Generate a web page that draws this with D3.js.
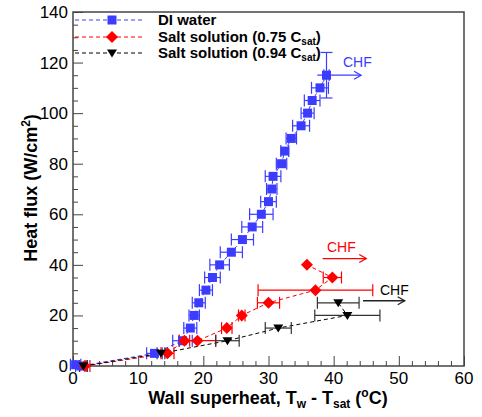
<!DOCTYPE html>
<head>
  <meta charset="utf-8">
  <script src="https://d3js.org/d3.v7.min.js"></script>
  <style>
    body { margin: 0; background: white; }
    svg { display: block; background: white; font-family: "Liberation Sans", Arial, sans-serif; }
  </style>
</head>
<body>
<svg width="482" height="417"></svg>
<script>
// DI water: [superheat, heat flux, x error, y error]
var diWater = [
  [0.4, 0.5, 0.8, 0], [1.2, 0, 0.8, 0], [12.5, 5, 1.2, 0], [16.8, 10, 1.5, 0],
  [18.0, 15, 1.0, 0], [18.6, 20, 0.8, 0], [19.3, 25, 1.0, 0], [20.4, 30, 1.0, 0],
  [21.4, 35, 1.2, 0], [22.5, 40, 1.5, 0], [24.3, 45, 1.7, 0], [26.0, 50, 1.7, 0],
  [27.5, 55, 1.6, 0], [28.9, 60, 1.8, 0], [30.0, 65, 1.2, 0], [30.5, 70, 0.8, 0],
  [30.7, 75, 1.2, 0], [32.0, 80, 0.8, 0], [32.5, 85, 0.6, 0], [33.5, 90, 0.8, 0],
  [35.0, 95, 1.3, 0], [36.0, 100, 1.0, 0], [36.7, 105, 1.2, 0], [37.9, 110, 1.3, 0],
  [38.9, 115, 0.4, 9]
];
var salt075 = [
  [1.8, 0, 0.8, 0], [14.5, 5, 1.0, 0], [17.1, 10, 0.8, 0], [19.1, 10, 2.8, 0],
  [23.6, 15, 0.8, 0], [25.9, 20, 0.5, 0], [30.0, 25, 1.7, 0], [37.2, 30, 8.8, 0],
  [39.8, 35, 1.4, 0], [35.9, 40, 0, 0]
];
var salt094 = [
  [1.6, 0, 0.6, 0], [13.5, 5, 0.6, 0], [23.7, 10, 1.8, 0], [31.5, 15, 2.0, 0],
  [42.1, 20, 5.0, 0], [40.7, 25, 3.2, 0]
];
var seriesNames = ["DI water", "Salt solution (0.75 C", "Salt solution (0.94 C"];
var seriesColors = ["#3c3cff", "#ff0000", "#000000"];
// CHF arrows: [x start, x end, y, label]
var chfArrows = [
  [37.5, 44.2, 115, "CHF"],
  [38.3, 45.0, 42.5, "CHF"],
  [44.5, 50.9, 25.8, "CHF"]
];
var xTicks = [0, 10, 20, 30, 40, 50, 60];
var yTicks = [0, 20, 40, 60, 80, 100, 120, 140];

var svg = d3.select("svg");
var x = d3.scaleLinear().domain([0, 60]).range([73, 464]);
var y = d3.scaleLinear().domain([0, 140]).range([366, 12]);

var frameColor = "#444";

// ticks inward
var xAxis = d3.axisBottom(x).tickValues(d3.range(0, 61, 2)).tickSize(-5).tickFormat("");
svg.append("g").attr("transform", "translate(0,366)").call(xAxis)
  .call(g => g.select(".domain").remove())
  .call(g => g.selectAll("line").attr("stroke", frameColor)
    .attr("y2", d => d % 10 === 0 ? -10 : -5));
var yAxis = d3.axisLeft(y).tickValues(d3.range(0, 141, 5)).tickSize(-5).tickFormat("");
svg.append("g").attr("transform", "translate(73,0)").call(yAxis)
  .call(g => g.select(".domain").remove())
  .call(g => g.selectAll("line").attr("stroke", frameColor)
    .attr("x2", d => d % 20 === 0 ? 10 : 5));

svg.append("rect").attr("x", 73).attr("y", 12).attr("width", 391).attr("height", 354)
  .attr("fill", "none").attr("stroke", frameColor).attr("stroke-width", 1.5);

svg.selectAll(".xl").data(xTicks).enter().append("text")
  .attr("x", d => x(d)).attr("y", 384).attr("text-anchor", "middle")
  .attr("font-size", 17).text(d => d);
svg.selectAll(".yl").data(yTicks).enter().append("text")
  .attr("x", 68).attr("y", d => y(d) + 6).attr("text-anchor", "end")
  .attr("font-size", 17).text(d => d);

// axis titles
var xt = svg.append("text").attr("x", 268).attr("y", 404).attr("text-anchor", "middle")
  .attr("font-size", 18).attr("font-weight", "bold");
xt.append("tspan").text("Wall superheat, T");
xt.append("tspan").attr("font-size", 12).attr("dy", 4).text("w");
xt.append("tspan").attr("dy", -4).text(" - T");
xt.append("tspan").attr("font-size", 12).attr("dy", 4).text("sat");
xt.append("tspan").attr("dy", -4).text(" (");
xt.append("tspan").attr("font-size", 12).attr("dy", -7).text("o");
xt.append("tspan").attr("dy", 7).text("C)");

var yt = svg.append("text").attr("transform", "translate(37,188) rotate(-90)")
  .attr("text-anchor", "middle").attr("font-size", 18).attr("font-weight", "bold");
yt.append("tspan").text("Heat flux (W/cm");
yt.append("tspan").attr("font-size", 12).attr("dy", -7).text("2");
yt.append("tspan").attr("dy", 7).text(")");

var line = d3.line().x(d => x(d[0])).y(d => y(d[1]));
var allSeries = [diWater, salt075, salt094];

allSeries.forEach(function(data, i) {
  var col = seriesColors[i];
  var g = svg.append("g");
  g.append("path").datum(data).attr("d", line).attr("fill", "none")
    .attr("stroke", col).attr("stroke-width", 1).attr("stroke-dasharray", "4,3");
  // error bars
  data.forEach(function(d) {
    var ec = i === 2 ? "#333" : col;
    if (d[2] > 0) {
      g.append("line").attr("x1", x(d[0] - d[2])).attr("x2", x(d[0] + d[2]))
        .attr("y1", y(d[1])).attr("y2", y(d[1])).attr("stroke", ec).attr("stroke-width", 1.2);
      [d[0] - d[2], d[0] + d[2]].forEach(function(v) {
        g.append("line").attr("x1", x(v)).attr("x2", x(v))
          .attr("y1", y(d[1]) - 6).attr("y2", y(d[1]) + 6).attr("stroke", ec).attr("stroke-width", 1.2);
      });
    }
    if (d[3] > 0) {
      g.append("line").attr("x1", x(d[0])).attr("x2", x(d[0]))
        .attr("y1", y(d[1] - d[3])).attr("y2", y(d[1] + d[3])).attr("stroke", ec).attr("stroke-width", 1.2);
      [d[1] - d[3], d[1] + d[3]].forEach(function(v) {
        g.append("line").attr("x1", x(d[0]) - 6).attr("x2", x(d[0]) + 6)
          .attr("y1", y(v)).attr("y2", y(v)).attr("stroke", ec).attr("stroke-width", 1.2);
      });
    }
  });
});

var shapes = [
  "M-4.5,-4.5H4.5V4.5H-4.5Z",
  "M0,-6L6,0L0,6L-6,0Z",
  "M-5,-3.5H5L0,4.5Z"
];
function marker(g, i, px, py) {
  g.append("path").attr("d", shapes[i])
    .attr("transform", "translate(" + px + "," + py + ")")
    .attr("fill", seriesColors[i]);
}
allSeries.forEach(function(data, i) {
  var g = svg.append("g");
  data.forEach(d => marker(g, i, x(d[0]), y(d[1])));
});

// CHF arrows
var arrowColors = ["#3c3cff", "#ff0000", "#222"];
chfArrows.forEach(function(a, i) {
  var c = arrowColors[i];
  var x1 = x(a[0]), x2 = x(a[1]), yy = y(a[2]);
  svg.append("line").attr("x1", x1).attr("x2", x2).attr("y1", yy).attr("y2", yy)
    .attr("stroke", c).attr("stroke-width", 1.3);
  svg.append("path").attr("d", "M" + (x2 - 7) + "," + (yy - 4) + "L" + x2 + "," + yy + "L" + (x2 - 7) + "," + (yy + 4))
    .attr("fill", "none").attr("stroke", c).attr("stroke-width", 1.3);
});
svg.append("text").attr("x", 343).attr("y", 67).attr("font-size", 14).attr("fill", "#3c3cff").text("CHF");
svg.append("text").attr("x", 327).attr("y", 252).attr("font-size", 14).attr("fill", "#ff0000").text("CHF");
svg.append("text").attr("x", 380).attr("y", 295).attr("font-size", 14).attr("fill", "#000").text("CHF");

// legend
var legY = [20, 37, 53];
seriesNames.forEach(function(name, i) {
  svg.append("line").attr("x1", 75).attr("x2", 142).attr("y1", legY[i]).attr("y2", legY[i])
    .attr("stroke", seriesColors[i]).attr("stroke-width", 1).attr("stroke-dasharray", "4,3");
  marker(svg, i, 112, legY[i]);
  var t = svg.append("text").attr("x", 158).attr("y", legY[i] + 5)
    .attr("font-size", 15).attr("font-weight", "bold").text(name);
  if (i > 0) {
    t.append("tspan").attr("font-size", 10).attr("dy", 3).text("sat");
    t.append("tspan").attr("dy", -3).text(")");
  }
});
</script>
</body>
</html>
